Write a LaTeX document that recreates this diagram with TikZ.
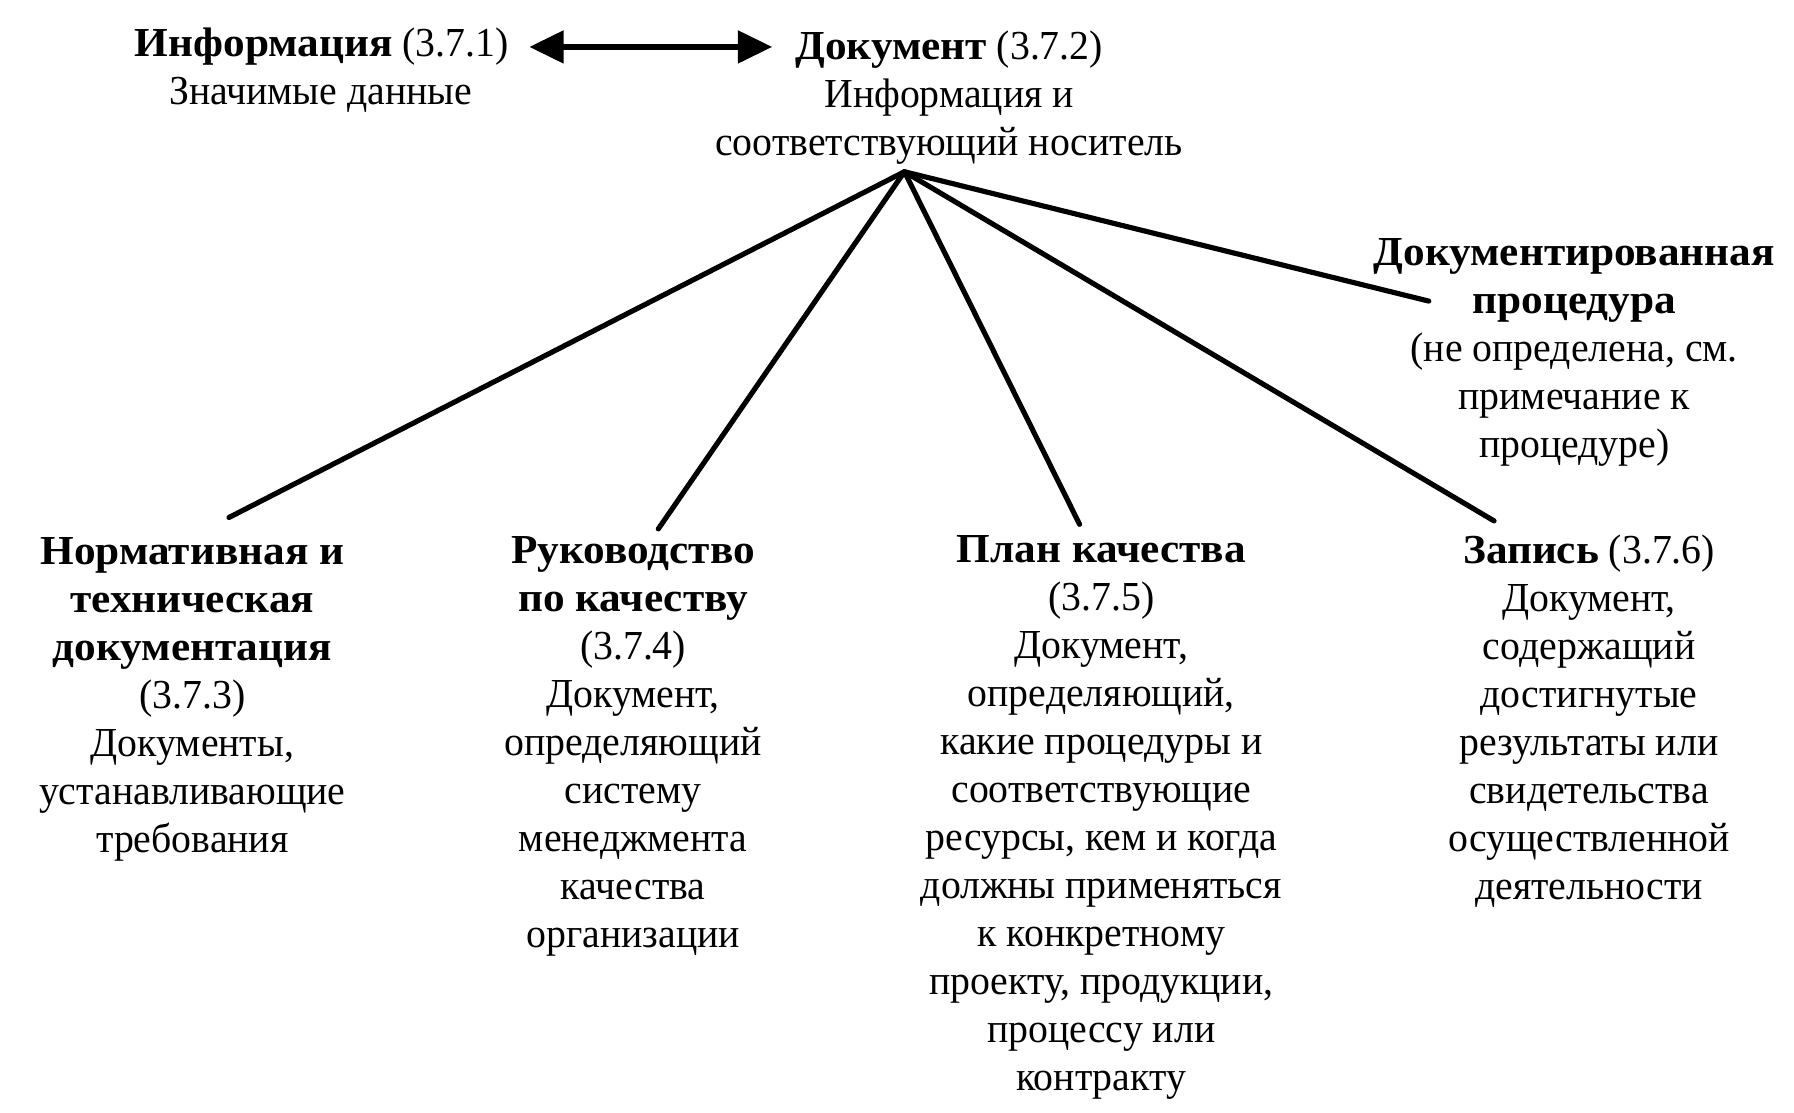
\documentclass[tikz,border=0pt]{standalone}
\usepackage{fontspec}
\setmainfont{Liberation Serif}[FakeStretch=0.965, BoldFeatures={FakeStretch=1.05}]
\usetikzlibrary{arrows.meta}
\begin{document}
\begin{tikzpicture}[x=1pt,y=-1pt,
  txt/.style={align=center, inner sep=0pt, font=\fontsize{36}{42}\selectfont},
  conn/.style={line width=4.5pt, line cap=round},
  dbl/.style={line width=4.5pt, {Triangle[length=30pt,width=28pt]}-{Triangle[length=30pt,width=28pt]}}
  ]
\useasboundingbox (0,0) rectangle (1567,972);
\node[txt] (infot) at (281,41) {\textbf{Информация} (3.7.1)};
\node[txt] (infos) at (280,83) {Значимые данные};
\node[txt] (doct) at (829,43) {\textbf{Документ} (3.7.2)};
\node[txt] (docs) at (829,106) {Информация и\\соответствующий носитель};
\draw[dbl, shorten <=18pt, shorten >=20pt] (infot.east) -- (infot.east -| doct.west);

\node[txt] (norm) at (168,611) {\textbf{Нормативная и}\\\textbf{техническая}\\\textbf{документация}\\(3.7.3)\\Документы,\\устанавливающие\\требования};
\node[txt] (ruk) at (553,652) {\textbf{Руководство}\\\textbf{по качеству}\\(3.7.4)\\Документ,\\определяющий\\систему\\менеджмента\\качества\\организации};
\node[txt] (plan) at (962,714) {\textbf{План качества}\\(3.7.5)\\Документ,\\определяющий,\\какие процедуры и\\соответствующие\\ресурсы, кем и когда\\должны применяться\\к конкретному\\проекту, продукции,\\процессу или\\контракту};
\node[txt] (zap) at (1388,630) {\textbf{Запись} (3.7.6)\\Документ,\\содержащий\\достигнутые\\результаты или\\свидетельства\\осуществленной\\деятельности};
\node[txt] (proc) at (1375,308) {\textbf{Документированная}\\\textbf{процедура}\\(не определена, см.\\примечание к\\процедуре)};

\coordinate (hub) at (790,150);
\coordinate (e1) at (200,452);
\coordinate (e2) at (575,462);
\coordinate (e3) at (943,458);
\coordinate (e4) at (1305,455);
\coordinate (e5) at (1248,263);
\draw[conn] (hub) -- (e1);
\draw[conn] (hub) -- (e2);
\draw[conn] (hub) -- (e3);
\draw[conn] (hub) -- (e4);
\draw[conn] (hub) -- (e5);
\end{tikzpicture}
\end{document}
